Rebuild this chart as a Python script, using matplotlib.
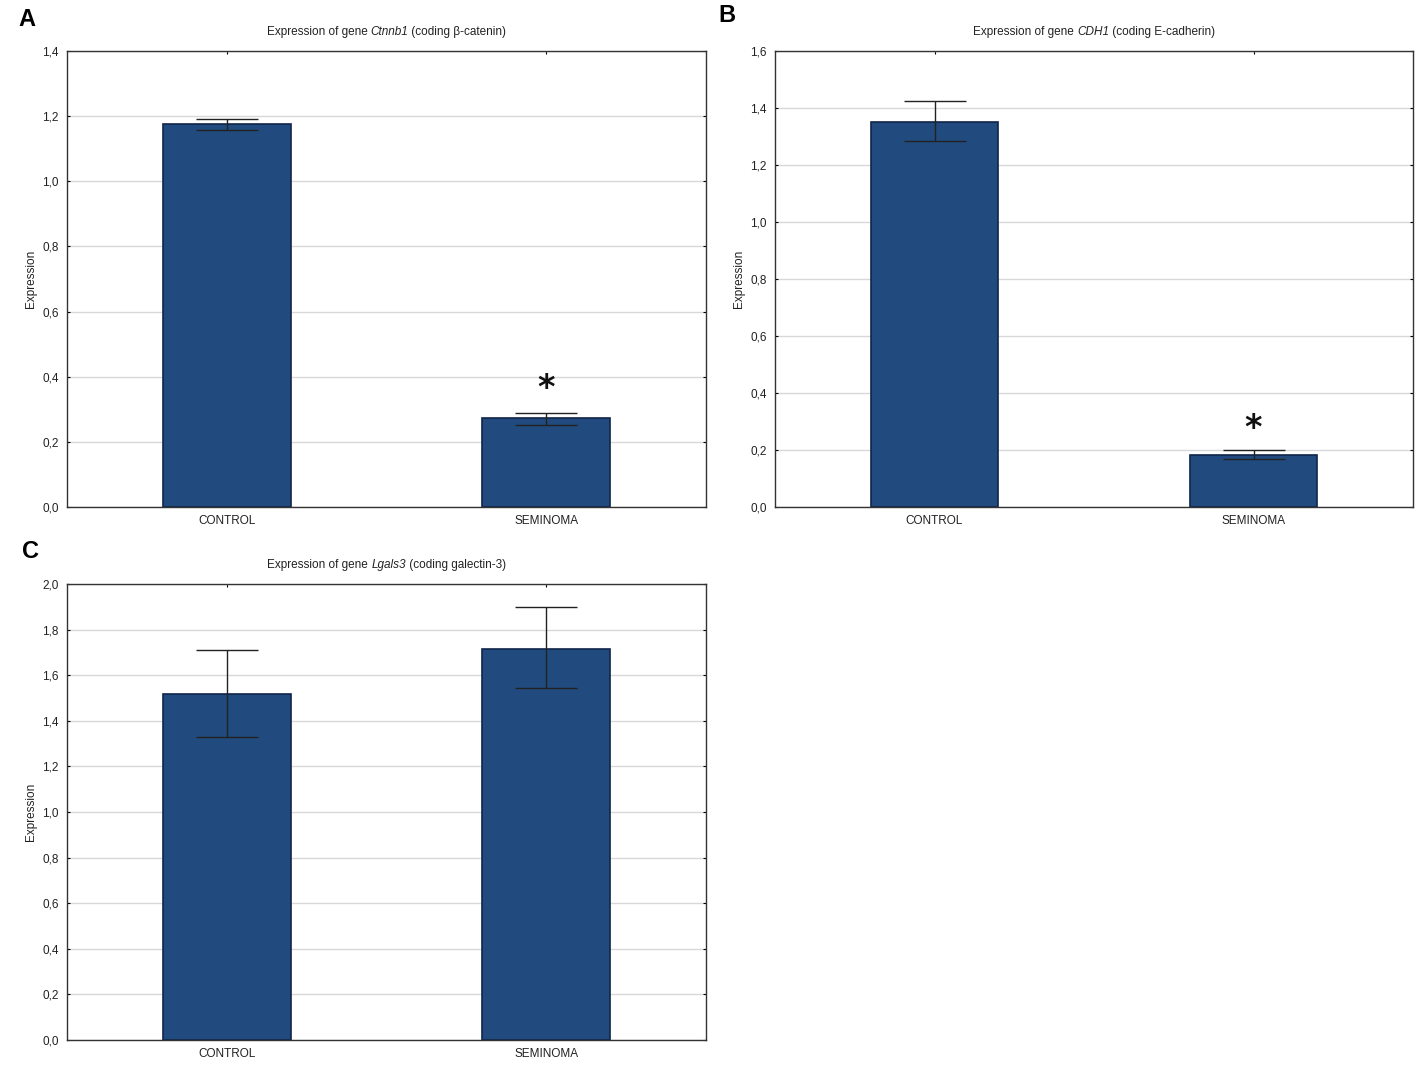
import matplotlib
matplotlib.use("Agg")
import matplotlib.pyplot as plt
from matplotlib.ticker import FuncFormatter, MultipleLocator
from matplotlib.transforms import IdentityTransform

plt.rcParams['font.family'] = ['Liberation Sans Narrow', 'Liberation Sans', 'DejaVu Sans']

categories = ["CONTROL", "SEMINOMA"]

# Panel A: Ctnnb1
a_values = [1.175, 0.272]
a_err_low = [1.158, 0.253]
a_err_high = [1.190, 0.290]
# Panel B: CDH1
b_values = [1.352, 0.182]
b_err_low = [1.284, 0.168]
b_err_high = [1.425, 0.200]
# Panel C: Lgals3
c_values = [1.518, 1.716]
c_err_low = [1.330, 1.543]
c_err_high = [1.710, 1.898]

title_parts = [
    ("Expression of gene ", "Ctnnb1", " (coding β-catenin)"),
    ("Expression of gene ", "CDH1", " (coding E-cadherin)"),
    ("Expression of gene ", "Lgals3", " (coding galectin-3)"),
]
ymaxes = [1.4, 1.6, 2.0]
star_y = [0.365, 0.275, None]
panel_letters = ["A", "B", "C"]

bar_color = "#214a7e"
edge_color = "#10254a"

fig = plt.figure(figsize=(14.17, 10.70), dpi=100)
rects = [
    [67/1417, 1-507/1070, 639/1417, 456/1070],
    [775/1417, 1-507/1070, 638/1417, 456/1070],
    [67/1417, 1-1040/1070, 639/1417, 456/1070],
]
letter_pos = [(18/1417, 1-19/1070), (718/1417, 1-15/1070), (22/1417, 1-552/1070)]

datasets = [
    (a_values, a_err_low, a_err_high),
    (b_values, b_err_low, b_err_high),
    (c_values, c_err_low, c_err_high),
]

fmt = FuncFormatter(lambda v, p: f"{v:.1f}".replace(".", ","))
renderer = fig.canvas.get_renderer()

for i in range(3):
    ax = fig.add_axes(rects[i])
    vals, lo, hi = datasets[i]
    x = list(range(len(categories)))
    ax.bar(x, vals, width=0.4, color=bar_color, edgecolor=edge_color, linewidth=1.2, zorder=2)
    yerr = [[v - l for v, l in zip(vals, lo)], [h - v for v, h in zip(vals, hi)]]
    ax.errorbar(x, vals, yerr=yerr, fmt="none", ecolor="#222222", elinewidth=1.0,
                capsize=22, capthick=1.0, zorder=3)
    ax.set_xlim(-0.5, 1.5)
    ax.set_ylim(0, ymaxes[i])
    ax.yaxis.set_major_locator(MultipleLocator(0.2))
    ax.yaxis.set_major_formatter(fmt)
    ax.set_xticks(x)
    ax.set_xticklabels(categories, fontsize=8.5, color="#222222")
    ax.tick_params(axis="y", labelsize=8.5, labelcolor="#222222", length=0, pad=6)
    ax.tick_params(axis="x", length=2.5, direction="in", top=True, pad=6)
    ax.tick_params(axis="y", right=True, direction="in", length=2.5)
    ax.grid(axis="y", color="#d8d8d8", linewidth=1.0, zorder=0)
    ax.set_axisbelow(True)
    for s in ax.spines.values():
        s.set_color("#333333")
        s.set_linewidth(1.0)
    ax.set_ylabel("Expression", fontsize=8.5, color="#222222", labelpad=4)

    # title in three pieces (gene name in italics), centred over the axes
    styles = ["normal", "italic", "normal"]
    texts = [ax.text(0, 0, s, fontsize=8.5, color="#222222", ha="left", va="baseline",
                     style=st, transform=IdentityTransform())
             for s, st in zip(title_parts[i], styles)]
    widths = [t.get_window_extent(renderer).width for t in texts]
    axbb = ax.get_window_extent(renderer)
    xpos = axbb.x0 + axbb.width / 2 - sum(widths) / 2
    for t, w in zip(texts, widths):
        t.set_position((xpos, axbb.y1 + 16))
        xpos += w

    if star_y[i] is not None:
        ax.text(1, star_y[i], "*", ha="center", va="center", fontsize=24,
                fontweight="bold", color="#111111", family="DejaVu Sans", zorder=4)
    fig.text(letter_pos[i][0], letter_pos[i][1], panel_letters[i], fontsize=17,
             fontweight="bold", ha="left", va="center", family="Liberation Sans")

fig.savefig("out.png", dpi=100)
